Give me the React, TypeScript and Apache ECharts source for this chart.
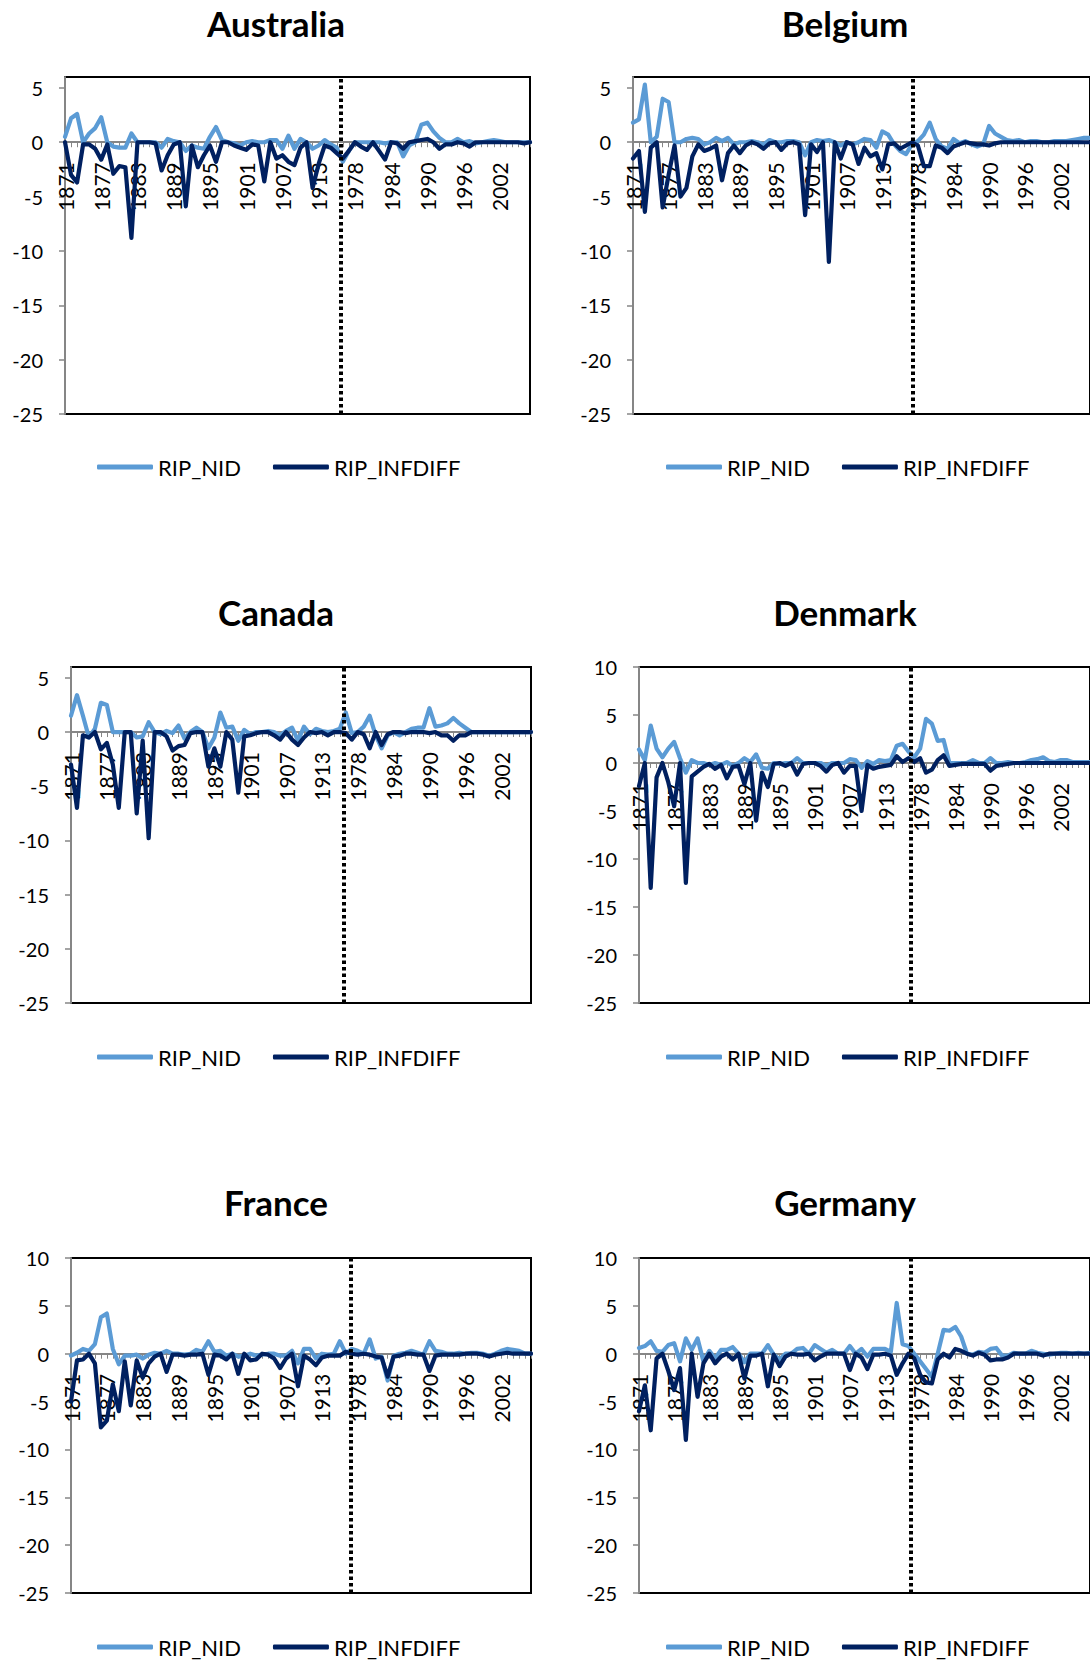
import React, { useEffect, useRef } from 'react';
import * as echarts from 'echarts';

const years = [
  '1871', '1872', '1873', '1874', '1875', '1876', '1877', '1878', '1879', '1880',
  '1881', '1882', '1883', '1884', '1885', '1886', '1887', '1888', '1889', '1890',
  '1891', '1892', '1893', '1894', '1895', '1896', '1897', '1898', '1899', '1900',
  '1901', '1902', '1903', '1904', '1905', '1906', '1907', '1908', '1909', '1910',
  '1911', '1912', '1913', '1973', '1974', '1975', '1976', '1977', '1978', '1979',
  '1980', '1981', '1982', '1983', '1984', '1985', '1986', '1987', '1988', '1989',
  '1990', '1991', '1992', '1993', '1994', '1995', '1996', '1997', '1998', '1999',
  '2000', '2001', '2002', '2003', '2004', '2005', '2006', '2007',
];

const australiaNid = [
  0.5, 2.2, 2.6, 0, 0.8, 1.3, 2.3, 0, -0.4, -0.5,
  -0.5, 0.8, 0, 0, 0, 0, -0.5, 0.3, 0.1, 0,
  -0.8, -0.3, -0.5, -0.6, 0.5, 1.4, 0.2, 0, -0.1, -0.3,
  0, 0.1, 0, 0, 0.2, 0.2, -0.6, 0.6, -0.6, 0.3,
  0, -0.6, -0.3, 0.2, -0.2, -0.5, -1.8, -0.8, 0, 0,
  0, 0, 0, -0.1, 0, 0, -1.3, -0.3, 0, 1.6,
  1.8, 1.0, 0.4, 0, 0, 0.3, 0, 0.1, -0.1, 0,
  0.1, 0.2, 0.1, 0, 0, 0, 0, 0,
];
const australiaInf = [
  0, -3.0, -3.7, -0.2, -0.2, -0.6, -1.6, -0.2, -2.9, -2.2,
  -2.3, -8.8, 0, 0, 0, -0.1, -2.6, -1.2, -0.2, 0,
  -5.9, -0.3, -2.3, -1.2, -0.3, -1.8, 0, 0, -0.3, -0.5,
  -0.7, -0.2, -0.3, -3.6, 0, -1.5, -1.2, -1.8, -2.1, -0.5,
  0, -4.2, -2.0, -0.3, -0.5, -1.0, -1.5, -0.8, 0, -0.4,
  -0.7, 0, -0.8, -1.6, 0, -0.1, -0.6, 0, 0.1, 0.2,
  0.3, 0, -0.6, -0.2, -0.2, 0, -0.1, -0.4, 0, 0,
  0, 0, 0, 0, 0, 0, -0.1, 0,
];

const belgiumNid = [
  1.8, 2.1, 5.3, 0, 0.5, 4.0, 3.7, 0, 0, 0.3,
  0.4, 0.3, -0.2, 0, 0.4, 0.1, 0.4, -0.2, 0, 0,
  0.1, 0, -0.2, 0.2, 0, 0, 0.1, 0.1, 0, -1.2,
  0, 0.2, 0.1, 0.2, 0, -0.3, 0, -0.2, 0, 0.3,
  0.2, -0.5, 1.0, 0.7, -0.2, -0.8, -1.1, -0.2, 0.1, 0.7,
  1.8, 0.3, -0.4, -0.6, 0.3, -0.1, 0.1, -0.2, -0.4, -0.2,
  1.5, 0.8, 0.5, 0.2, 0.1, 0.2, 0, 0.1, 0.1, 0,
  0, 0.1, 0.1, 0.1, 0.2, 0.3, 0.4, 0.4,
];
const belgiumInf = [
  -1.5, -0.8, -6.4, -0.5, 0, -6.0, -3.0, -0.3, -5.0, -4.2,
  -1.3, -0.2, -0.8, -0.6, -0.3, -3.5, -1.0, -0.3, -1.0, -0.3,
  0, -0.2, -0.6, -0.1, 0, -0.7, -0.1, 0, -0.2, -6.7,
  -0.2, -0.9, 0, -11.0, 0, -1.5, 0, -0.2, -2.0, -0.5,
  -1.3, -1.0, -2.5, -0.2, -0.1, -0.6, -0.3, 0, -0.3, -2.2,
  -2.2, -0.3, -0.5, -1.0, -0.4, -0.2, 0, -0.1, -0.2, -0.2,
  -0.3, -0.1, 0, 0, 0, 0, 0, 0, 0, 0,
  0, 0, 0, 0, 0, 0, 0, 0,
];

const canadaNid = [
  1.5, 3.4, 1.5, -0.5, 0.3, 2.7, 2.5, 0, 0, 0,
  0, -0.5, -0.4, 0.9, 0, -0.2, 0.1, -0.1, 0.6, -0.6,
  0, 0.4, 0, -1.5, -0.5, 1.8, 0.4, 0.5, -0.8, 0.2,
  -0.2, 0, 0, 0.1, 0, -0.3, 0.1, 0.4, -0.8, 0.5,
  -0.2, 0.3, 0.1, 0, 0.1, 0.3, 1.8, -0.1, 0, 0.5,
  1.5, -0.3, -1.5, -0.3, 0, -0.3, 0, 0.3, 0.4, 0.4,
  2.2, 0.5, 0.6, 0.8, 1.3, 0.8, 0.4, 0, 0, 0,
  0, 0, 0, 0, 0, 0, 0, 0,
];
const canadaInf = [
  -3.0, -7.0, -0.3, -0.5, 0, -1.6, -1.0, -3.0, -7.0, 0,
  0, -7.5, -0.8, -9.8, 0, 0, -0.4, -1.7, -1.3, -1.2,
  -0.1, 0, 0, -3.2, -1.5, -3.2, 0, -0.7, -5.6, -0.4,
  -0.3, -0.1, 0, 0, -0.3, -0.7, 0, -0.7, -1.2, -0.5,
  0, -0.1, 0, -0.3, 0, 0, -0.1, -0.7, 0, -0.2,
  -1.5, 0, -1.2, -0.2, 0, 0, -0.1, 0, 0, 0,
  -0.1, 0, -0.3, -0.3, -0.8, -0.3, -0.3, 0, 0, 0,
  0, 0, 0, 0, 0, 0, 0, 0,
];

const denmarkNid = [
  1.4, 0.3, 3.9, 1.5, 0.6, 1.5, 2.2, 0.5, -1.0, 0.3,
  0, 0, -0.2, 0, -0.2, 0.1, -0.3, 0, 0.5, 0.1,
  0.9, -0.5, -0.6, 0, -0.1, 0, 0, 0.5, 0, 0,
  0, 0, -0.3, 0, 0, 0, 0.4, 0.3, -0.5, 0.2,
  -0.1, 0.3, 0.2, 0.3, 1.8, 2.0, 1.2, 0.6, 1.5, 4.6,
  4.1, 2.3, 2.4, 0, 0, 0, 0, 0.3, 0, 0,
  0.5, 0, 0, 0.1, 0, 0, 0.1, 0.3, 0.4, 0.6,
  0.2, 0.1, 0.3, 0.3, 0.1, 0.1, 0.1, 0.1,
];
const denmarkInf = [
  -2.4, 0, -13.0, -1.5, 0, -2.0, -4.5, 0, -12.5, -1.4,
  -0.9, -0.4, -0.1, -0.6, -0.2, -1.6, -0.4, -0.3, -2.2, 0,
  -6.0, -1.0, -2.5, -0.1, 0, -0.3, 0, -1.2, -0.1, 0,
  0, -0.3, -0.9, -0.2, 0, -1.0, -0.3, -0.3, -5.0, -0.2,
  -0.6, -0.4, -0.3, -0.2, 0.7, 0.1, 0.5, 0.1, 0.5, -1.0,
  -0.7, 0.3, 0.8, -0.3, -0.2, -0.1, -0.1, -0.1, -0.1, -0.1,
  -0.8, -0.3, -0.2, -0.1, 0, 0, 0, 0, 0, 0,
  0, 0, 0, 0, 0, 0, 0, 0,
];

const franceNid = [
  -0.2, 0.1, 0.5, 0.3, 1.0, 3.8, 4.2, 0.5, -1.1, -0.2,
  -0.2, -0.1, -0.5, -0.1, 0.1, 0, 0.3, 0, 0, -0.1,
  0, 0.4, 0.2, 1.3, 0.2, 0.3, -0.2, 0, -0.3, -0.2,
  0, -0.2, -0.1, 0, 0, -0.2, -0.2, 0.3, -1.0, 0.5,
  0.5, -0.5, 0, -0.1, 0, 1.3, 0, 0.5, 0.3, 0,
  1.5, -0.5, -0.3, -2.8, -0.2, 0, 0.1, 0.3, 0.1, -0.1,
  1.3, 0.3, 0.2, 0, 0, 0.1, 0, 0.1, 0.1, 0,
  -0.2, 0, 0.3, 0.5, 0.4, 0.3, 0, 0,
];
const franceInf = [
  -5.0, -0.7, -0.6, 0, -1.0, -7.7, -7.0, -3.2, -6.0, -0.8,
  -5.4, -0.7, -2.5, -1.0, -0.3, 0, -1.9, -0.1, -0.1, -0.2,
  -0.1, -0.1, 0, -2.2, -0.1, -0.2, -0.6, 0, -2.1, 0,
  -0.7, -0.6, 0, -0.1, -0.5, -1.5, -0.5, 0, -3.4, -0.2,
  -0.6, -1.2, -0.4, -0.2, -0.2, -0.2, 0.2, 0, -0.1, 0,
  -0.1, -0.3, -0.4, -2.4, -0.3, -0.2, 0, 0, -0.1, -0.1,
  -1.8, -0.2, -0.1, -0.1, -0.1, -0.1, 0, 0, 0, -0.1,
  -0.3, -0.1, 0, 0.1, 0, 0, 0, 0,
];

const germanyNid = [
  0.6, 0.8, 1.3, 0.3, 0.2, 0.9, 1.1, -0.8, 1.6, 0.4,
  1.6, -0.8, 0.3, -0.5, 0.4, 0.4, 0.7, 0, -0.9, 0,
  0, 0, 0.9, -0.1, -0.6, 0, 0, 0.5, 0.6, 0,
  0.9, 0.5, 0.1, 0.4, 0, 0, 0.8, 0, 0.5, -0.3,
  0.5, 0.5, 0.5, 0.2, 5.3, 1.0, 0.8, 0, -0.8, -1.6,
  -2.4, 0, 2.5, 2.4, 2.8, 1.8, 0, -0.1, 0.2, 0.1,
  0.5, 0.6, -0.2, -0.2, 0.1, 0, 0, 0.3, 0.1, 0,
  -0.1, 0, 0.1, 0.1, 0, 0.1, 0, 0.1,
];
const germanyInf = [
  -6.0, -3.3, -8.0, -0.5, 0, -1.8, -3.8, -1.5, -9.0, 0,
  -4.5, -1.0, 0, -1.0, -0.3, 0, -0.6, 0, -2.6, -0.2,
  -0.2, 0, -3.4, -0.1, -1.3, -0.3, 0, -0.1, -0.1, 0,
  -0.7, -0.3, 0, 0, 0, 0, -1.7, 0, -0.4, -1.6,
  -0.1, -0.1, 0, -0.2, -2.2, -1.0, 0, -0.5, -2.2, -3.0,
  -3.1, -0.6, 0, -0.4, 0.5, 0.3, 0, -0.2, 0.1, -0.1,
  -0.7, -0.6, -0.6, -0.4, 0, 0, 0, 0, 0, -0.2,
  0, 0, 0, 0, 0, 0, 0, 0,
];

const countries = ['Australia', 'Belgium', 'Canada', 'Denmark', 'France', 'Germany'];
const nidSeries = [australiaNid, belgiumNid, canadaNid, denmarkNid, franceNid, germanyNid];
const infSeries = [australiaInf, belgiumInf, canadaInf, denmarkInf, franceInf, germanyInf];
// axis range top (5-unit ticks run from -25; the first three panels stop a little above 5)
const yMaxes = [6, 6, 6, 10, 10, 10];
const yMin = -25;
const yStep = 5;
// break between the two periods, as a position on the category index scale
const breakPositions = [45.6, 47.1, 45.7, 46.4, 46.8, 46.4];
const seriesNames = ['RIP_NID', 'RIP_INFDIFF'];
const seriesColors = ['#5B9BD5', '#002060'];

// layout (pixels)
const panelLayout = [
  { left: 65, top: 77, width: 465, height: 337, titleX: 276, titleY: 23, legendX: 97, legendY: 467 },
  { left: 633, top: 77, width: 467, height: 337, titleX: 845, titleY: 23, legendX: 666, legendY: 467 },
  { left: 71, top: 667, width: 460, height: 336, titleX: 276, titleY: 612, legendX: 97, legendY: 1057 },
  { left: 639, top: 667, width: 462, height: 336, titleX: 845, titleY: 612, legendX: 666, legendY: 1057 },
  { left: 71, top: 1258, width: 460, height: 335, titleX: 276, titleY: 1202, legendX: 97, legendY: 1647 },
  { left: 639, top: 1258, width: 462, height: 335, titleX: 845, titleY: 1202, legendX: 666, legendY: 1647 },
];

const FONT = 'Lato, "Noto Sans", sans-serif';

function buildOption() {
  const grid: any[] = [];
  const xAxis: any[] = [];
  const yAxis: any[] = [];
  const series: any[] = [];
  const title: any[] = [];
  const legend: any[] = [];

  countries.forEach((name, g) => {
    const L = panelLayout[g];
    // the category axis sits on the value 0 of the y axis
    const zeroFromBottom = ((0 - yMin) / (yMaxes[g] - yMin)) * L.height;
    grid.push({
      left: L.left,
      top: L.top,
      width: L.width,
      height: L.height,
      show: true,
      borderColor: '#000',
      borderWidth: 2,
      backgroundColor: 'transparent',
      containLabel: false,
    });
    xAxis.push({
      type: 'category',
      gridIndex: g,
      data: years,
      boundaryGap: false,
      position: 'bottom',
      offset: -zeroFromBottom,
      axisLine: { onZero: false, lineStyle: { color: '#868686', width: 2 } },
      axisTick: { show: true, interval: 0, length: 5, lineStyle: { color: '#868686', width: 1 } },
      axisLabel: {
        interval: 5,
        rotate: 90,
        margin: 20,
        fontFamily: FONT,
        fontSize: 21,
        color: '#000',
        hideOverlap: false,
      },
      splitLine: { show: false },
      z: 1,
    });
    xAxis.push({
      type: 'value',
      gridIndex: g,
      min: 0,
      max: years.length - 1,
      show: false,
    });
    yAxis.push({
      type: 'value',
      gridIndex: g,
      min: yMin,
      max: yMaxes[g],
      interval: yStep,
      axisLine: { show: true, lineStyle: { color: '#868686', width: 2 } },
      axisTick: { show: true, length: 6, lineStyle: { color: '#868686', width: 1.5 } },
      axisLabel: {
        fontFamily: FONT,
        fontSize: 20,
        color: '#000',
        margin: 22,
        showMaxLabel: yMaxes[g] % yStep === 0,
      },
      splitLine: { show: false },
    });
    seriesNames.forEach((sn, k) => {
      series.push({
        type: 'line',
        name: sn,
        xAxisIndex: g * 2,
        yAxisIndex: g,
        data: k === 0 ? nidSeries[g] : infSeries[g],
        symbol: 'none',
        z: 3 + k,
        lineStyle: { color: seriesColors[k], width: 4.2, cap: 'round', join: 'round' },
        itemStyle: { color: seriesColors[k] },
      });
    });
    series.push({
      type: 'line',
      name: 'break',
      xAxisIndex: g * 2 + 1,
      yAxisIndex: g,
      data: [],
      symbol: 'none',
      z: 6,
      markLine: {
        silent: true,
        symbol: ['none', 'none'],
        label: { show: false },
        lineStyle: { color: '#000', width: 4, type: [3.5, 3] },
        data: [{ xAxis: breakPositions[g] }],
      },
    });
    title.push({
      text: name,
      left: L.titleX,
      top: L.titleY - 20,
      padding: 0,
      textAlign: 'center',
      textStyle: { fontFamily: FONT, fontWeight: 'bold', fontSize: 35, color: '#000', lineHeight: 40 },
    });
    legend.push({
      data: seriesNames,
      left: L.legendX,
      top: L.legendY - 13,
      padding: 0,
      itemWidth: 56,
      itemHeight: 5,
      itemGap: 32,
      icon: 'roundRect',
      textStyle: { fontFamily: FONT, fontSize: 22, color: '#000', lineHeight: 26 },
    });
  });

  return {
    animation: false,
    backgroundColor: '#fff',
    title,
    legend,
    grid,
    xAxis,
    yAxis,
    series,
  };
}

export default function App() {
  const ref = useRef<HTMLDivElement>(null);
  useEffect(() => {
    if (!ref.current) return;
    const chart = echarts.init(ref.current, undefined, { renderer: 'svg' });
    chart.setOption(buildOption());
    return () => chart.dispose();
  }, []);
  return (
    <div
      ref={ref}
      style={{ position: 'absolute', left: 0, top: 0, width: 1090, height: 1661, background: '#fff' }}
    />
  );
}
